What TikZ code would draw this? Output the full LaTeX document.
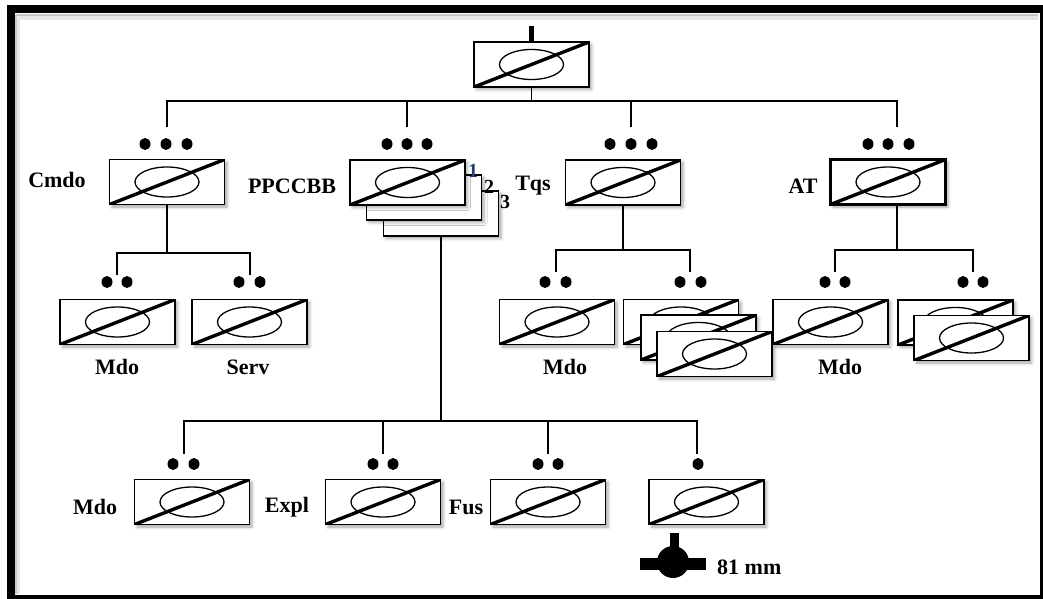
\documentclass[tikz,border=0pt]{standalone}
\usepackage{fontspec}
\setmainfont{Liberation Serif}
\usetikzlibrary{shadows.blur}
\definecolor{numblue}{RGB}{40,62,112}

\tikzset{
  link/.style={line width=1.6pt},
  unit/.style={draw, line width=1.6pt, fill=white, inner sep=0pt,
    minimum width=115pt, minimum height=45pt,
    blur shadow={shadow xshift=2.5pt, shadow yshift=-2.5pt, shadow blur radius=3pt, shadow opacity=35},
    path picture={
      \draw[line width=3.4pt] (path picture bounding box.south west) -- (path picture bounding box.north east);
      \draw[line width=1.3pt] (path picture bounding box.center) ellipse [x radius=32pt, y radius=15pt];
    }},
  sheet/.style={draw, line width=1.6pt, fill=white, inner sep=0pt,
    minimum width=115pt, minimum height=45pt,
    blur shadow={shadow xshift=2.5pt, shadow yshift=-2.5pt, shadow blur radius=3pt, shadow opacity=35}},
  lbl/.style={font=\bfseries\fontsize{22}{25}\selectfont, inner sep=0pt},
  num/.style={font=\bfseries\fontsize{20}{22}\selectfont, inner sep=0pt},
}

\begin{document}
\begin{tikzpicture}[x=1pt, y=-1pt]
  \useasboundingbox (0,0) rectangle (1043,599);
  % outer frame, with its soft inner edge
  \draw[black!10, line width=4pt] (18,18) -- (1038,18);
  \draw[black!10, line width=4pt] (18,18) -- (18,594);
  \draw[black!22, line width=2.5pt] (15.5,15) -- (1038,15);
  \draw[black!22, line width=2.5pt] (16,15) -- (16,594);
  \draw[line width=7.5pt] (10.75,9) rectangle (1043.5,598.5);

  % headquarters
  \fill (529,26) rectangle (534,42);
  \node[unit] (top) at (531.5,64.5) {};

  % first echelon
  \node[unit] (cmdo) at (167,182) {};
  \node[sheet] (pp3) at (441,213.5) {};
  \node[sheet] (pp2) at (424,197.5) {};
  \node[unit] (pp1) at (407.5,182.5) {};
  \node[unit] (tqs) at (623,182.5) {};
  \node[unit, line width=3.5pt] (at) at (888,182) {};

  \node[lbl] (cmdo-l) at (57,180) {Cmdo};
  \node[lbl] (pp-l) at (292,186) {PPCCBB};
  \node[lbl] (tqs-l) at (533,186) {Tqs};
  \node[lbl] (at-l) at (803,186) {AT};
  \node[num, text=numblue] (n1) at (473,171) {1};
  \node[num] (n2) at (489,187) {2};
  \node[num] (n3) at (505,202) {3};

  % Cmdo children
  \node[unit] (mdo1) at (117.5,322) {};
  \node[unit] (serv) at (249.5,322) {};
  \node[lbl] (mdo1-l) at (117,367) {Mdo};
  \node[lbl] (serv-l) at (248,367) {Serv};

  % Tqs children
  \node[unit] (mdo2) at (557,322) {};
  \node[unit] (tq1) at (681,322) {};
  \node[unit] (tq2) at (698.5,337.5) {};
  \node[unit] (tq3) at (714.5,354) {};
  \node[lbl] (mdo2-l) at (565,367) {Mdo};

  % AT children
  \node[unit] (mdo3) at (830.5,322) {};
  \node[unit] (at1) at (955.5,322.5) {};
  \node[unit] (at2) at (971.5,338) {};
  \node[lbl] (mdo3-l) at (840,367) {Mdo};

  % PPCCBB children
  \node[unit] (mdo4) at (192,502) {};
  \node[unit] (expl) at (383,502) {};
  \node[unit] (fus) at (548,502) {};
  \node[unit] (mort) at (706.5,502) {};
  \node[lbl] (mdo4-l) at (95,507) {Mdo};
  \node[lbl] (expl-l) at (287,507) {Expl};
  \node[lbl] (fus-l) at (466,507) {Fus};

  % mortar 81 mm
  \fill (670,533) rectangle (679,550);
  \fill (640,558) rectangle (706,570);
  \fill (673,562) circle (16pt);
  \node[lbl, anchor=west] (mort-l) at (717,567) {81 mm};

  % echelon dots
  \foreach \x in {145,166,187, 387,407,427, 610,631,652, 868,888,909}
    \fill (\x,144) ellipse [x radius=5.5pt, y radius=6pt];
  \foreach \x in {107,127, 239,260, 545,566, 680,701, 825,845, 963,983}
    \fill (\x,282) ellipse [x radius=5.5pt, y radius=6pt];
  \foreach \x in {173,194, 373,393, 538,558, 698}
    \fill (\x,464) ellipse [x radius=5.5pt, y radius=6pt];

  % connectors, top level
  \coordinate (bus) at (531.5,101);
  \coordinate (cmdo-in) at (167,127);
  \coordinate (pp-in) at (407,127);
  \coordinate (tqs-in) at (631,127);
  \coordinate (at-in) at (897,127);
  \draw[link] (top.south) -- (bus);
  \draw[link] (cmdo-in) |- (bus) -| (at-in);
  \draw[link] (pp-in) -- (pp-in |- bus);
  \draw[link] (tqs-in) -- (tqs-in |- bus);

  % connectors, Cmdo
  \coordinate (cmdo-bus) at (167,253);
  \coordinate (mdo1-in) at (117,275);
  \coordinate (serv-in) at (250,275);
  \draw[link] (cmdo.south) -- (cmdo-bus);
  \draw[link] (mdo1-in) |- (cmdo-bus) -| (serv-in);

  % connectors, Tqs
  \coordinate (tqs-bus) at (623,250);
  \coordinate (mdo2-in) at (556,272);
  \coordinate (tq1-in) at (690,272);
  \draw[link] (tqs.south) -- (tqs-bus);
  \draw[link] (mdo2-in) |- (tqs-bus) -| (tq1-in);

  % connectors, AT
  \coordinate (at-bus) at (897,250);
  \coordinate (mdo3-in) at (835,272);
  \coordinate (at1-in) at (973,272);
  \draw[link] (at-bus |- at.south) -- (at-bus);
  \draw[link] (mdo3-in) |- (at-bus) -| (at1-in);

  % connectors, PPCCBB
  \coordinate (pp-bus) at (441,421);
  \coordinate (mdo4-in) at (184,454);
  \coordinate (expl-in) at (383,454);
  \coordinate (fus-in) at (548,454);
  \coordinate (mort-in) at (697,454);
  \draw[link] (pp3.south) -- (pp-bus);
  \draw[link] (mdo4-in) |- (pp-bus) -| (mort-in);
  \draw[link] (expl-in) -- (expl-in |- pp-bus);
  \draw[link] (fus-in) -- (fus-in |- pp-bus);
\end{tikzpicture}
\end{document}
